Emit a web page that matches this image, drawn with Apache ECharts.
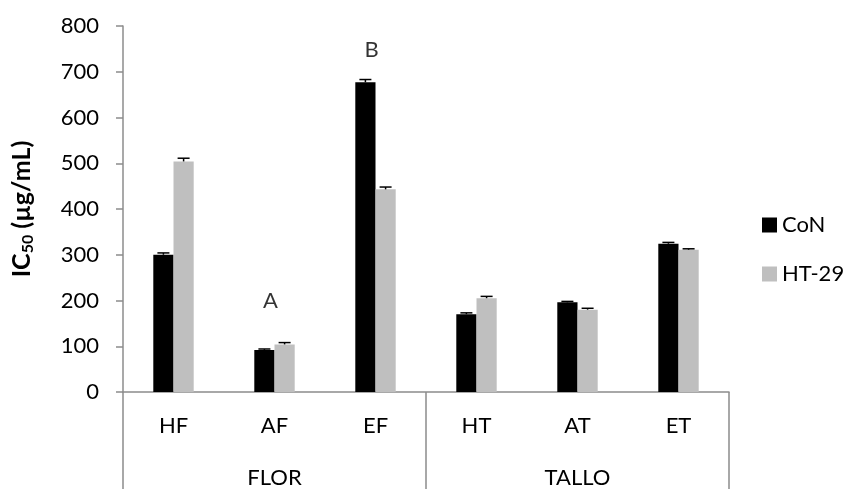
<!DOCTYPE html>
<html>
<head>
<meta charset="utf-8">
<script src="https://cdn.jsdelivr.net/npm/echarts@6/dist/echarts.min.js"></script>
<style>
  html, body { margin: 0; padding: 0; background: #ffffff; }
  #chart { width: 846px; height: 489px; }
</style>
</head>
<body>
<div id="chart"></div>
<script>
// Extracts grouped by plant part
const categories = ['HF', 'AF', 'EF', 'HT', 'AT', 'ET'];
const groups = ['FLOR', 'TALLO'];
const seriesNames = ['CoN', 'HT-29'];

// IC50 values (µg/mL) and their standard errors
const conValues = [300, 92, 677, 170, 196, 324];
const conErrors = [4, 2, 6, 3, 2, 3];
const ht29Values = [504, 104, 443, 205, 180, 311];
const ht29Errors = [7, 4, 5, 4, 3, 2];

// Significance letters placed above some extracts
const noteCategories = ['AF', 'EF'];
const noteValues = [199, 748];
const noteTexts = ['A', 'B'];

const yTicks = { min: 0, max: 800, interval: 100 };

const FONT = 'Lato';
const AXIS_GRAY = '#8c8c8c';

const chart = echarts.init(document.getElementById('chart'), null, { renderer: 'canvas' });

// Upper error whisker with a cap, shifted to sit on top of its bar
function errorSeries(name, values, errors, side) {
  const data = values.map((v, i) => [i, v, v + errors[i]]);
  return {
    type: 'custom',
    name: name + ' error',
    xAxisIndex: 0,
    z: 5,
    silent: true,
    data: data,
    renderItem: function (params, api) {
      const band = api.size([1, 0])[0];
      const offset = side * band * 0.1;
      const base = api.coord([api.value(0), api.value(1)]);
      const top = api.coord([api.value(0), api.value(2)]);
      const x = base[0] + offset;
      const cap = 6;
      const style = { stroke: '#000000', lineWidth: 1.5 };
      return {
        type: 'group',
        children: [
          { type: 'line', shape: { x1: x, y1: base[1], x2: x, y2: top[1] }, style: style },
          { type: 'line', shape: { x1: x - cap, y1: top[1], x2: x + cap, y2: top[1] }, style: style }
        ]
      };
    }
  };
}

const option = {
  backgroundColor: '#ffffff',
  animation: false,
  textStyle: { fontFamily: FONT },
  grid: { left: 112, right: 117, top: 26, bottom: 96.5, containLabel: false },
  legend: {
    data: seriesNames,
    orient: 'vertical',
    left: 757,
    top: 209,
    itemWidth: 15,
    itemHeight: 15,
    itemGap: 27,
    icon: 'rect',
    textStyle: { fontFamily: FONT, fontSize: 22, color: '#000000' }
  },
  xAxis: [
    {
      type: 'category',
      data: categories,
      position: 'bottom',
      axisLine: { show: true, lineStyle: { color: AXIS_GRAY, width: 1.5 } },
      axisTick: { show: false },
      axisLabel: { fontFamily: FONT, fontSize: 22, color: '#000000', margin: 23 },
      splitLine: { show: false }
    },
    {
      type: 'category',
      data: groups,
      position: 'bottom',
      axisLine: { show: false },
      axisTick: { show: true, length: 97, alignWithLabel: false, lineStyle: { color: AXIS_GRAY, width: 1.5 } },
      axisLabel: { fontFamily: FONT, fontSize: 22, color: '#000000', margin: 75 },
      splitLine: { show: false }
    }
  ],
  yAxis: {
    type: 'value',
    min: yTicks.min,
    max: yTicks.max,
    interval: yTicks.interval,
    name: '{b|IC}{s|50}{b| (µg/mL)}',
    nameLocation: 'middle',
    nameRotate: 90,
    nameGap: 86,
    nameTextStyle: {
      rich: {
        b: { fontFamily: FONT, fontSize: 25, fontWeight: 'bold', color: '#000000', lineHeight: 30 },
        s: { fontFamily: FONT, fontSize: 16, fontWeight: 'bold', color: '#000000', lineHeight: 30, padding: [12, 0, 0, 0] }
      }
    },
    axisLine: { show: true, lineStyle: { color: AXIS_GRAY, width: 1.5 } },
    axisTick: { show: true, length: 7, inside: false, lineStyle: { color: AXIS_GRAY, width: 1.5 } },
    axisLabel: { fontFamily: FONT, fontSize: 22, color: '#000000', margin: 24 },
    splitLine: { show: false }
  },
  series: [
    {
      type: 'bar',
      name: seriesNames[0],
      data: conValues,
      barGap: '0%',
      barCategoryGap: '60%',
      itemStyle: { color: '#000000' }
    },
    {
      type: 'bar',
      name: seriesNames[1],
      data: ht29Values,
      barGap: '0%',
      barCategoryGap: '60%',
      itemStyle: { color: '#bfbfbf' }
    },
    errorSeries(seriesNames[0], conValues, conErrors, -1),
    errorSeries(seriesNames[1], ht29Values, ht29Errors, 1),
    {
      type: 'scatter',
      name: 'letters',
      silent: true,
      symbolSize: 1,
      itemStyle: { color: 'rgba(0,0,0,0)' },
      data: noteCategories.map((c, i) => ({ value: [c, noteValues[i]], text: noteTexts[i] })),
      label: {
        show: true,
        position: 'inside',
        offset: [-4, 0],
        formatter: p => p.data.text,
        fontFamily: FONT,
        fontSize: 22,
        color: '#000000'
      }
    }
  ]
};

chart.setOption(option);
</script>
</body>
</html>
